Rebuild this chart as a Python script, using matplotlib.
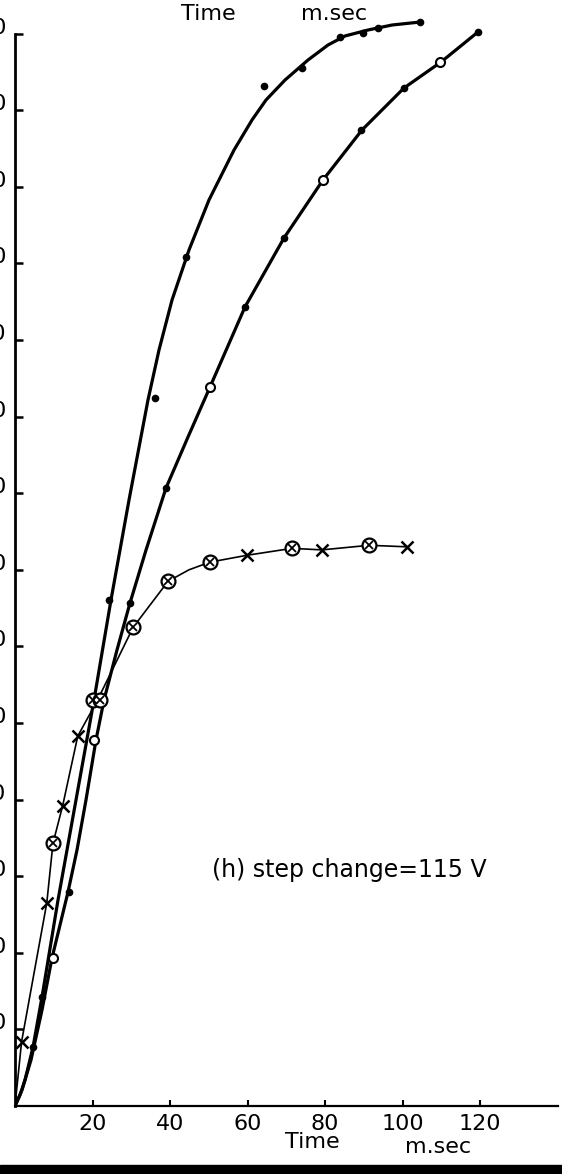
import matplotlib
matplotlib.use('Agg')
import matplotlib.pyplot as plt
from matplotlib.patches import Rectangle

# traced response curves, time in ms
fast_line_t = [0, 1.29, 2.58, 4.65, 6.97, 11.10, 15.74, 20.39, 24.77, 29.42, 34.32, 37.16, 40.52,
               44.90, 50.06, 56.52, 61.16, 64.77, 69.68, 75.61, 80.77, 85.16, 91.10, 97.29, 104.52]
fast_line_v = [0, 1.44, 3.39, 7.70, 14.23, 26.89, 39.95, 53.00, 66.06, 79.11, 92.17, 98.69, 105.22,
               111.75, 118.28, 124.80, 128.72, 131.33, 133.94, 136.55, 138.51, 139.69, 140.47, 141.12, 141.51]
fast_pts_t = [4.7, 6.9, 24.3, 36.2, 44.2, 64.3, 74.1, 83.9, 89.9, 93.6, 104.5]
fast_pts_v = [7.7, 14.2, 66.1, 92.4, 110.8, 133.2, 135.5, 139.6, 140.1, 140.7, 141.5]

slow_line_t = [0, 1.81, 4.13, 6.97, 9.55, 13.68, 16.0, 18.32, 20.90, 22.97, 26.32, 29.68, 33.81,
               38.97, 44.65, 50.32, 59.35, 69.42, 79.48, 89.55, 100.39, 109.94, 119.48]
slow_line_v = [0, 2.09, 6.01, 12.53, 19.32, 27.94, 33.42, 39.95, 47.78, 53.0, 59.53, 65.67, 72.58,
               80.68, 87.34, 93.86, 104.31, 113.32, 120.89, 127.42, 132.90, 136.29, 140.21]
slow_open_t = [9.7, 20.3, 50.2, 79.5, 109.8]
slow_open_v = [19.3, 47.8, 93.9, 120.9, 136.3]
slow_dot_t = [13.9, 29.7, 39.0, 59.3, 69.5, 89.4, 100.3, 119.5]
slow_dot_v = [27.9, 65.7, 80.7, 104.3, 113.3, 127.4, 132.9, 140.2]

sat_line_t = [0, 1.7, 8.2, 9.8, 12.3, 16.2, 21.2, 30.5, 39.5, 44.9, 50.3, 59.9, 71.5, 79.2, 91.4, 101.2]
sat_line_v = [0, 8.4, 26.5, 34.3, 39.2, 48.3, 52.9, 62.5, 68.5, 70.0, 71.0, 71.9, 72.8, 72.6, 73.2, 73.0]
sat_circ_t = [9.8, 20.1, 21.9, 30.5, 39.5, 50.3, 71.5, 91.4]
sat_circ_v = [34.3, 53.0, 53.0, 62.5, 68.5, 71.0, 72.8, 73.2]
sat_cross_t = [1.7, 8.2, 12.3, 16.2, 59.9, 79.2, 101.2]
sat_cross_v = [8.4, 26.5, 39.2, 48.3, 71.9, 72.6, 73.0]

xticks = [20, 40, 60, 80, 100, 120]
yticks = [10, 20, 30, 40, 50, 60, 70, 80, 90, 100, 110, 120, 130, 140]

W, H = 562, 1174
fig = plt.figure(figsize=(W / 100, H / 100), dpi=100)
ax = fig.add_axes([15 / W, 68 / H, 542.5 / W, 146 * 7.66 / H])
ax.set_xlim(0, 140)
ax.set_ylim(0, 146)

ax.plot(fast_line_t, fast_line_v, color='black', lw=2.3, solid_capstyle='round', solid_joinstyle='round')
ax.plot(fast_pts_t, fast_pts_v, 'o', color='black', ms=4.5, ls='none')

ax.plot(slow_line_t, slow_line_v, color='black', lw=2.3, solid_capstyle='round', solid_joinstyle='round')
ax.plot(slow_open_t, slow_open_v, 'o', mfc='white', mec='black', mew=1.5, ms=6.5, ls='none')
ax.plot(slow_dot_t, slow_dot_v, 'o', color='black', ms=4.5, ls='none')

ax.plot(sat_line_t, sat_line_v, color='black', lw=1.2, solid_joinstyle='round')
ax.plot(sat_circ_t, sat_circ_v, 'o', mfc='white', mec='black', mew=1.6, ms=10, ls='none')
ax.plot(sat_circ_t, sat_circ_v, 'x', color='black', mew=1.3, ms=6, ls='none')
ax.plot(sat_cross_t, sat_cross_v, 'x', color='black', mew=1.8, ms=8, ls='none')

ax.text(50.8, 30.8, '(h) step change=115 V', fontsize=17, ha='left', va='center')

for side in ('top', 'right'):
    ax.spines[side].set_visible(False)
ax.spines['left'].set_bounds(0, 140)
ax.spines['left'].set_linewidth(2.0)
ax.spines['bottom'].set_linewidth(1.6)

ax.set_xticks(xticks)
ax.set_xticklabels([str(t) for t in xticks], fontsize=16)
ax.set_yticks(yticks)
ax.set_yticklabels([str(t) for t in yticks], fontsize=16)
ax.tick_params(axis='x', direction='in', length=4, width=1.5, pad=6)
ax.tick_params(axis='y', direction='in', length=6, width=1.8, pad=6)
for lab in ax.get_yticklabels():
    lab.set_verticalalignment('baseline')

# axis caption below, and the one bleeding in from the panel above
fig.text(312 / W, 26 / H, 'Time', fontsize=16, ha='center', va='baseline')
fig.text(438 / W, 21 / H, 'm.sec', fontsize=16, ha='center', va='baseline')
fig.text(208 / W, (H - 20) / H, 'Time', fontsize=16, ha='center', va='baseline')
fig.text(334 / W, (H - 20) / H, 'm.sec', fontsize=16, ha='center', va='baseline')

fig.patches.append(Rectangle((0, 0), 1, 9 / H, transform=fig.transFigure,
                             color='black', zorder=5))

fig.savefig('out.png', dpi=100)
